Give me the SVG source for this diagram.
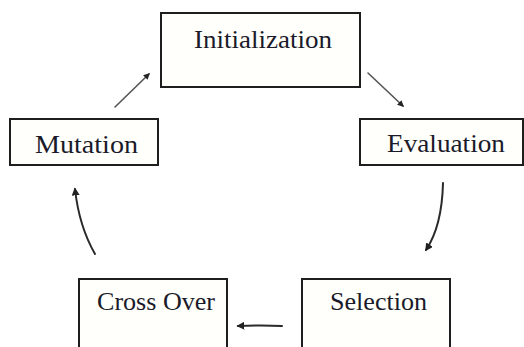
<svg xmlns="http://www.w3.org/2000/svg" width="524" height="347" viewBox="0 0 524 347">
<style>
.box{fill:#fffffb;stroke:#1e1e1e;stroke-width:2}
.lbl{font-family:'Liberation Serif','DejaVu Serif',serif;font-size:25px;fill:#1a1a2a}
.con{fill:none;stroke:#2a2a2a;stroke-width:2;stroke-linecap:round}
.thin{stroke:#555;stroke-width:1.6}
</style>
<defs>
<marker id="ah" viewBox="0 0 10 10" refX="8" refY="5" markerWidth="4" markerHeight="4" orient="auto" markerUnits="strokeWidth">
<path d="M0,0 L10,5 L0,10 z" fill="#222"/>
</marker>
</defs>
<rect width="524" height="347" fill="#ffffff"/>
<g id="connectors">
<path class="con thin" d="M115,107 L149,74" marker-end="url(#ah)"/>
<path class="con thin" d="M368,73 L403,106" marker-end="url(#ah)"/>
<path class="con" d="M443,183 Q442,226 426,250" marker-end="url(#ah)"/>
<path class="con" d="M282,326 Q262,325 238,326" marker-end="url(#ah)"/>
<path class="con" d="M95,254 Q79,226 75,189" marker-end="url(#ah)"/>
</g>
<g id="initialization">
<rect class="box" x="161" y="13" width="199" height="74"/>
<text class="lbl" x="194" y="48" textLength="138" lengthAdjust="spacingAndGlyphs">Initialization</text>
</g>
<g id="mutation">
<rect class="box" x="10" y="119" width="148" height="46"/>
<text class="lbl" x="35" y="153" textLength="103" lengthAdjust="spacingAndGlyphs">Mutation</text>
</g>
<g id="evaluation">
<rect class="box" x="360" y="119" width="163" height="46"/>
<text class="lbl" x="387" y="152" textLength="118" lengthAdjust="spacingAndGlyphs">Evaluation</text>
</g>
<g id="crossover">
<rect class="box" x="79" y="279" width="148" height="80"/>
<text class="lbl" x="97" y="310" textLength="118" lengthAdjust="spacingAndGlyphs">Cross Over</text>
</g>
<g id="selection">
<rect class="box" x="302" y="279" width="148" height="80"/>
<text class="lbl" x="330" y="310" textLength="97" lengthAdjust="spacingAndGlyphs">Selection</text>
</g>
</svg>
